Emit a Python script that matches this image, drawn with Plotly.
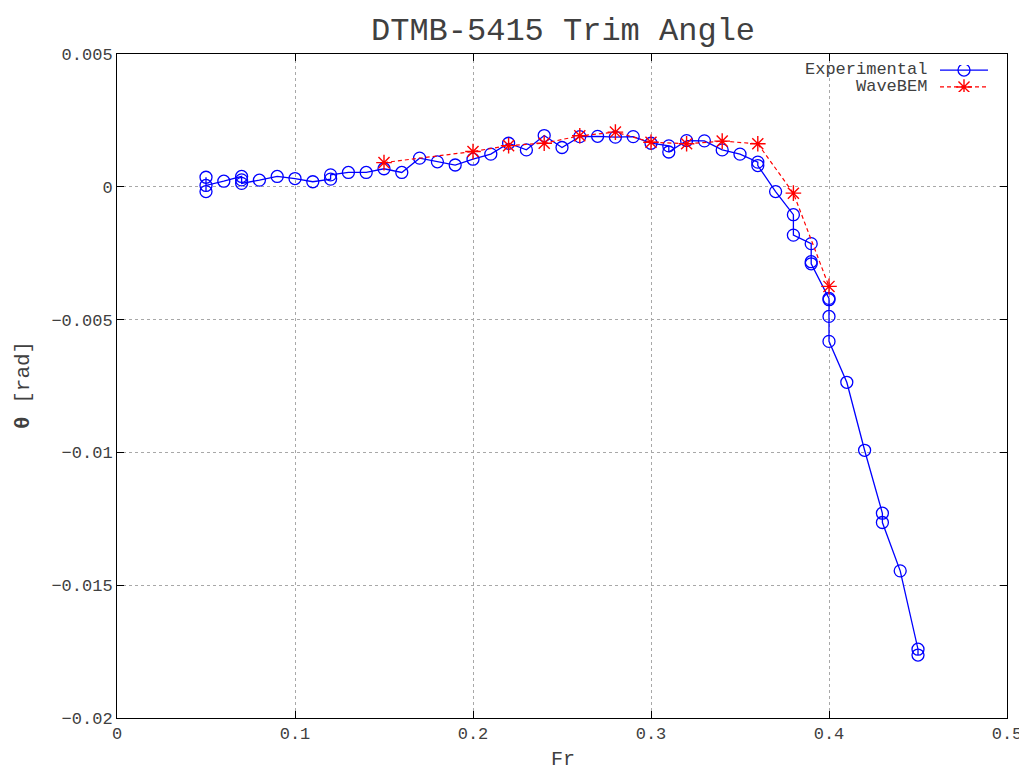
import plotly.graph_objects as go

# ---------------- data ----------------
exp_fr = [0.05, 0.05, 0.05, 0.06, 0.07, 0.07, 0.07, 0.08, 0.09, 0.10, 0.11, 0.12, 0.12,
          0.13, 0.14, 0.15, 0.16, 0.17, 0.18, 0.19, 0.20, 0.21, 0.22, 0.23, 0.24, 0.25,
          0.26, 0.27, 0.28, 0.29, 0.30, 0.31, 0.31, 0.32, 0.33, 0.34, 0.35, 0.36, 0.36,
          0.37, 0.38, 0.38, 0.39, 0.39, 0.39, 0.40, 0.40, 0.40, 0.40, 0.41, 0.42, 0.43, 0.43,
          0.44, 0.45, 0.45]
exp_theta = [0.00036, -0.00018, 0.00005, 0.00021, 0.00039, 0.00026, 0.00013, 0.00025,
             0.00039, 0.00031, 0.00019, 0.00029, 0.00045, 0.00054, 0.00054, 0.00068,
             0.00054, 0.00108, 0.00094, 0.00082, 0.00104, 0.00123, 0.00164, 0.00139,
             0.00193, 0.00148, 0.00189, 0.00190, 0.00187, 0.00189, 0.00164, 0.00154,
             0.00131, 0.00174, 0.00173, 0.00139, 0.00123, 0.00093, 0.00080, -0.00018,
             -0.00105, -0.00182, -0.00214, -0.00282, -0.00290, -0.00420, -0.00425,
             -0.00488, -0.00582, -0.00736, -0.00992, -0.01229, -0.01264, -0.01446,
             -0.01741, -0.01763]

bem_fr = [0.15, 0.20, 0.22, 0.24, 0.26, 0.28, 0.30, 0.32, 0.34, 0.36, 0.38, 0.40]
bem_theta = [0.00091, 0.00133, 0.00155, 0.00164, 0.00192, 0.00206, 0.00168, 0.00162,
             0.00172, 0.00162, -0.00024, -0.00375]

x_ticks = [0, 0.1, 0.2, 0.3, 0.4, 0.5]
x_ticklabels = ["0", "0.1", "0.2", "0.3", "0.4", "0.5"]
y_ticks = [0.005, 0, -0.005, -0.01, -0.015, -0.02]
y_ticklabels = ["0.005", "0", "\u22120.005", "\u22120.01", "\u22120.015", "\u22120.02"]

series_names = ["Experimental", "WaveBEM"]

# ---------------- figure ----------------
FONT = "Liberation Mono, Courier New, monospace"
BLUE = "#0000ff"
RED = "#ff0000"
GRAY_TXT = "#404040"
DASH = "4px,3px"

# the page body has an 8px margin; lay out in page pixels and compensate
OFF = 8
W, H = 1027 - OFF, 774 - OFF
L, R, T, B = 117 - OFF, 1027 - 1007, 54 - OFF, 774 - 718
pw = W - L - R
ph = H - T - B


def px_x(p):
    return (p - OFF - L) / pw


def px_y(p):
    return 1 - (p - OFF - T) / ph


fig = go.Figure()

fig.add_trace(go.Scatter(
    x=exp_fr, y=exp_theta, mode="lines+markers", name=series_names[0],
    line=dict(color=BLUE, width=1.3),
    marker=dict(symbol="circle-open", size=12, color=BLUE, line=dict(width=1.3)),
    showlegend=False,
))
fig.add_trace(go.Scatter(
    x=bem_fr, y=bem_theta, mode="lines+markers", name=series_names[1],
    line=dict(color=RED, width=1.2, dash=DASH),
    marker=dict(symbol="asterisk-open", size=13, color=RED, line=dict(width=1.4, color=RED)),
    showlegend=False,
))

# custom legend (gnuplot style: text then sample) on a hidden helper axis
leg_x = [0.0, 0.5, 1.0]
fig.add_trace(go.Scatter(
    x=leg_x, y=[1, 1, 1], xaxis="x2", yaxis="y2", mode="lines",
    line=dict(color=BLUE, width=1.3), showlegend=False, hoverinfo="skip"))
fig.add_trace(go.Scatter(
    x=[0.5], y=[1], xaxis="x2", yaxis="y2", mode="markers",
    marker=dict(symbol="circle-open", size=12, color=BLUE, line=dict(width=1.3)),
    showlegend=False, hoverinfo="skip"))
fig.add_trace(go.Scatter(
    x=leg_x, y=[0, 0, 0], xaxis="x2", yaxis="y2", mode="lines",
    line=dict(color=RED, width=1.2, dash=DASH), showlegend=False, hoverinfo="skip"))
fig.add_trace(go.Scatter(
    x=[0.5], y=[0], xaxis="x2", yaxis="y2", mode="markers",
    marker=dict(symbol="asterisk-open", size=13, color=RED, line=dict(width=1.4, color=RED)),
    showlegend=False, hoverinfo="skip"))

for i, name in enumerate(series_names):
    fig.add_annotation(
        text=name, xref="paper", yref="paper",
        x=px_x(929), y=px_y(70 + 17 * i), xanchor="right", yanchor="middle",
        showarrow=False, font=dict(family=FONT, size=17, color=GRAY_TXT))

# axis titles
fig.add_annotation(text="Fr", xref="paper", yref="paper", x=px_x(563), y=px_y(759),
                   xanchor="center", yanchor="middle", showarrow=False,
                   font=dict(family=FONT, size=20, color=GRAY_TXT))
fig.add_annotation(text="<b>θ</b> [rad]", xref="paper", yref="paper", x=px_x(23), y=px_y(385),
                   xanchor="center", yanchor="middle", showarrow=False, textangle=-90,
                   font=dict(family=FONT, size=21, color=GRAY_TXT))

axis_common = dict(
    showline=True, linecolor="black", linewidth=1, mirror="allticks",
    ticks="inside", ticklen=7, tickcolor="black", tickwidth=1,
    showgrid=True, gridcolor="#a8a8a8", griddash="dot", gridwidth=1,
    zeroline=False, automargin=False,
    tickfont=dict(family=FONT, size=17, color=GRAY_TXT),
)

fig.update_layout(
    width=W, height=H,
    margin=dict(l=L, r=R, t=T, b=B),
    paper_bgcolor="white", plot_bgcolor="white",
    title=dict(text="DTMB-5415 Trim Angle", x=(563 - OFF) / W, xanchor="center",
               y=1 - (29 - OFF) / H, yanchor="middle", automargin=False,
               font=dict(family=FONT, size=32, color=GRAY_TXT)),
    xaxis=dict(range=[0, 0.5], tickvals=x_ticks, ticktext=x_ticklabels, **axis_common),
    yaxis=dict(range=[-0.02, 0.005], tickvals=y_ticks, ticktext=y_ticklabels, **axis_common),
    xaxis2=dict(domain=[px_x(940), px_x(988)], range=[0, 1], visible=False,
                anchor="y2", fixedrange=True),
    yaxis2=dict(domain=[px_y(92), px_y(65)], range=[-0.3, 1.3], visible=False,
                anchor="x2", fixedrange=True),
    showlegend=False,
)

fig.write_html("out.html")
